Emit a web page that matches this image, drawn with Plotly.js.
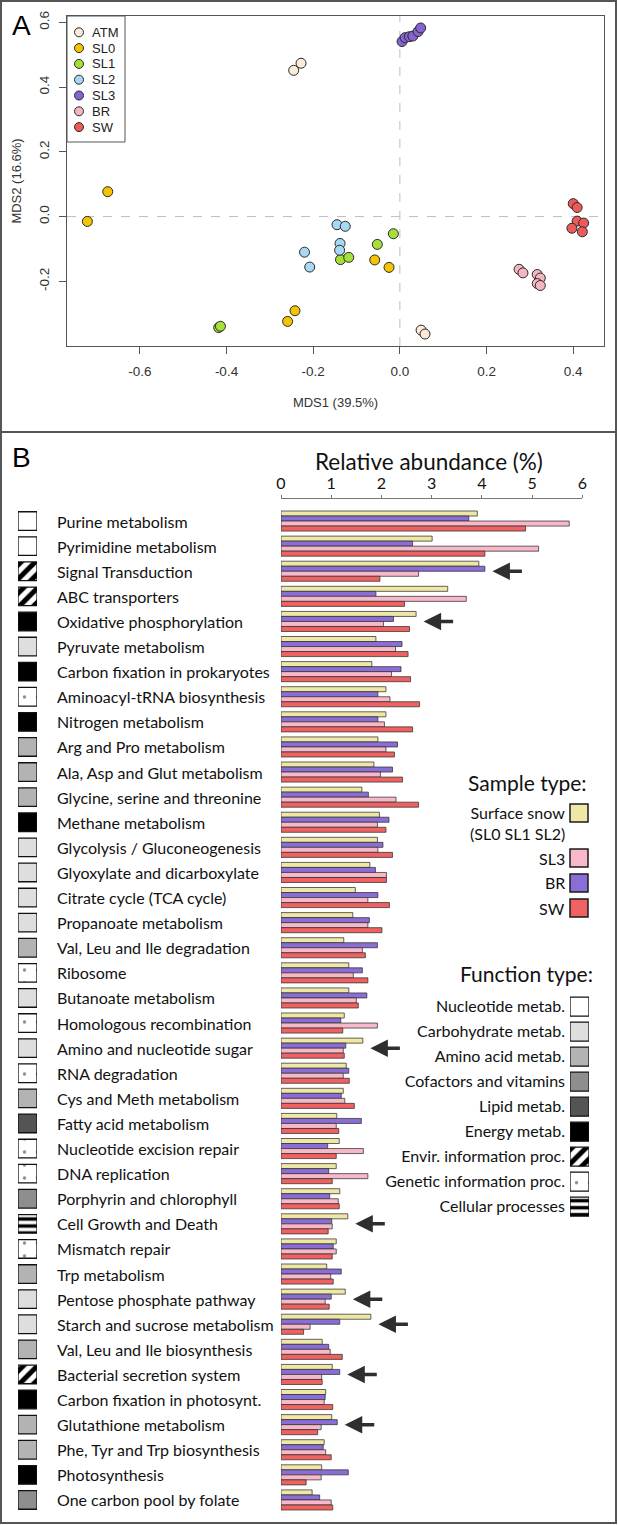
<!DOCTYPE html>
<html>
<head>
<meta charset="utf-8">
<script src="https://cdn.plot.ly/plotly-3.0.1.min.js"></script>
<style>html,body{margin:0;padding:0;background:#fff;}#chart{width:618px;height:1525px;}</style>
</head>
<body>
<div id="chart"></div>
<script>
// ---------- Panel A data (MDS ordination) ----------
const groupNames = ['ATM','SL0','SL1','SL2','SL3','BR','SW'];
const groupColors = ['#FCEBD8','#F5C400','#A6DE3A','#A8D8F4','#8663D0','#F6B5C3','#EC5A5A'];
const atmX = [-0.245, -0.228, 0.049, 0.058];
const atmY = [0.452, 0.474, -0.351, -0.363];
const sl0X = [-0.674, -0.721, -0.242, -0.259, -0.058, -0.025];
const sl0Y = [0.077, -0.015, -0.291, -0.324, -0.134, -0.157];
const sl1X = [-0.418, -0.414, -0.137, -0.118, -0.052, -0.015];
const sl1Y = [-0.343, -0.339, -0.133, -0.126, -0.086, -0.053];
const sl2X = [-0.220, -0.208, -0.145, -0.126, -0.138, -0.139];
const sl2Y = [-0.110, -0.156, -0.025, -0.030, -0.083, -0.104];
const sl3X = [0.005, 0.012, 0.022, 0.030, 0.042, 0.048];
const sl3Y = [0.541, 0.553, 0.556, 0.558, 0.572, 0.583];
const brX = [0.275, 0.284, 0.317, 0.324, 0.317, 0.324];
const brY = [-0.163, -0.174, -0.179, -0.190, -0.207, -0.213];
const swX = [0.400, 0.409, 0.409, 0.424, 0.397, 0.421];
const swY = [0.040, 0.028, -0.014, -0.020, -0.036, -0.047];
const mdsXTicks = [-0.6, -0.4, -0.2, 0.0, 0.2, 0.4];
const mdsXTickText = ['-0.6', '-0.4', '-0.2', '0.0', '0.2', '0.4'];
const mdsYTicks = [-0.2, 0.0, 0.2, 0.4, 0.6];
const mdsYTickText = ['-0.2', '0.0', '0.2', '0.4', '0.6'];

// ---------- Panel B data (relative abundance %) ----------
const categories = [
 'Purine metabolism','Pyrimidine metabolism','Signal Transduction','ABC transporters','Oxidative phosphorylation',
 'Pyruvate metabolism','Carbon fixation in prokaryotes','Aminoacyl-tRNA biosynthesis','Nitrogen metabolism','Arg and Pro metabolism',
 'Ala, Asp and Glut metabolism','Glycine, serine and threonine','Methane metabolism','Glycolysis / Gluconeogenesis','Glyoxylate and dicarboxylate',
 'Citrate cycle (TCA cycle)','Propanoate metabolism','Val, Leu and Ile degradation','Ribosome','Butanoate metabolism',
 'Homologous recombination','Amino and nucleotide sugar','RNA degradation','Cys and Meth metabolism','Fatty acid metabolism',
 'Nucleotide excision repair','DNA replication','Porphyrin and chlorophyll','Cell Growth and Death','Mismatch repair',
 'Trp metabolism','Pentose phosphate pathway','Starch and sucrose metabolism','Val, Leu and Ile biosynthesis','Bacterial secretion system',
 'Carbon fixation in photosynt.','Glutathione metabolism','Phe, Tyr and Trp biosynthesis','Photosynthesis','One carbon pool by folate'];
const surfaceSnow = [3.91,3.01,3.94,3.32,2.69,1.89,1.81,2.09,2.09,1.93,1.85,1.61,1.96,1.92,1.77,1.48,1.43,1.25,1.35,1.35,1.26,1.63,1.30,1.24,1.11,1.16,1.10,1.17,1.33,1.10,0.91,1.28,1.79,0.82,1.02,0.89,1.01,0.86,0.81,0.62];
const brVals = [3.74,2.62,4.06,1.89,2.24,2.41,2.39,1.93,1.93,2.32,2.22,1.74,2.15,2.03,1.88,1.93,1.76,1.92,1.62,1.71,1.19,1.29,1.35,1.20,1.60,0.93,0.95,0.97,1.01,1.04,1.20,1.00,1.17,0.95,1.17,0.88,1.12,0.84,1.34,0.77];
const sl3Vals = [5.74,5.13,2.74,3.69,2.04,2.28,2.20,2.17,2.06,2.09,1.98,2.29,1.92,1.93,2.10,1.73,1.73,1.62,1.44,1.50,1.92,1.24,1.24,1.27,1.10,1.64,1.73,1.14,1.02,1.10,0.99,0.88,0.58,0.98,0.81,0.86,0.80,0.89,0.80,1.00];
const swVals = [4.87,4.06,1.97,2.46,2.56,2.53,2.58,2.76,2.62,2.26,2.42,2.74,2.09,2.22,2.10,2.16,2.01,1.68,1.73,1.54,1.23,1.26,1.36,1.46,1.15,1.10,1.02,1.16,0.94,1.02,1.04,0.96,0.45,1.22,0.82,1.03,0.73,1.00,0.50,1.03];
const abundTicks = [0,1,2,3,4,5,6];
const sampleTypes = ['Surface snow<br>(SL0 SL1 SL2)','SL3','BR','SW'];
const sampleColors = ['#EEE7A6','#F7B9C9','#8B6DD6','#EF6262'];
const funcTypes = ['Nucleotide metab.','Carbohydrate metab.','Amino acid metab.','Cofactors and vitamins','Lipid metab.','Energy metab.','Envir. information proc.','Genetic information proc.','Cellular processes'];
// function type of each category (index into funcTypes)
const catFunction = [0,0,6,6,5,1,5,7,5,2, 2,2,5,1,1,1,1,2,7,1, 7,1,7,2,4,7,7,3,8,7, 2,1,1,2,6,5,2,2,5,3];
const highlighted = ['Signal Transduction','Oxidative phosphorylation','Amino and nucleotide sugar','Cell Growth and Death','Pentose phosphate pathway','Starch and sucrose metabolism','Bacterial secretion system','Glutathione metabolism'];

// ---------- styles ----------
const W = 618, H = 1525;
const fx = p => p / W, fy = p => 1 - p / H;
const fontA = 'Liberation Sans, Arial, sans-serif';
const fontB = 'Lato, Open Sans, sans-serif';
const funcFill = ['#FFFFFF','#DEDEDE','#B3B3B3','#8E8E8E','#545454','#000000','#FFFFFF','#FFFFFF','#FFFFFF'];
const funcShape = ['','','','','','','/','.','-'];
const funcFg = ['#000','#000','#000','#000','#000','#000','#000','#8a8a8a','#000'];
const funcSize = [8,8,8,8,8,8,10,13,7];
const funcSolid = [0.3,0.3,0.3,0.3,0.3,0.3,0.5,0.05,0.5];

const traces = [];
const groupXs = [atmX, sl0X, sl1X, sl2X, sl3X, brX, swX];
const groupYs = [atmY, sl0Y, sl1Y, sl2Y, sl3Y, brY, swY];
groupNames.forEach((g, i) => {
  traces.push({type:'scatter', mode:'markers', name:g, x:groupXs[i], y:groupYs[i], xaxis:'x', yaxis:'y',
    marker:{size:10, color:groupColors[i], line:{color:'#2a2a2a', width:1}}, showlegend:false, hoverinfo:'skip'});
});

const series = [surfaceSnow, brVals, sl3Vals, swVals];
const seriesColor = [sampleColors[0], sampleColors[2], sampleColors[1], sampleColors[3]];
const seriesName = ['Surface snow','BR','SL3','SW'];
series.forEach((s, i) => {
  traces.push({type:'bar', orientation:'h', name:seriesName[i], x:s, y:categories, xaxis:'x2', yaxis:'y2',
    marker:{color:seriesColor[i], line:{color:'rgba(50,50,50,0.75)', width:1}}, showlegend:false, hoverinfo:'skip'});
});

function funcMarker(k) {
  const m = {color: funcFill[k], line: {color:'#111', width:1.3}};
  if (funcShape[k]) {
    m.pattern = {shape: funcShape[k], fgcolor: funcFg[k], bgcolor: funcFill[k], size: funcSize[k], solidity: funcSolid[k], fillmode:'replace'};
  }
  return m;
}
// function-type squares beside each category (own axes), and the function-type key
funcTypes.forEach((f, k) => {
  const cats = categories.filter((c, i) => catFunction[i] === k);
  traces.push({type:'bar', orientation:'h', name:f, x:cats.map(() => 1), y:cats, xaxis:'x3', yaxis:'y3',
    width:0.74, offsetgroup:'sq', marker:funcMarker(k), showlegend:false, hoverinfo:'skip'});
  traces.push({type:'bar', orientation:'h', name:f, x:[1], y:[f], xaxis:'x4', yaxis:'y4',
    width:0.76, offsetgroup:'key', marker:funcMarker(k), showlegend:false, hoverinfo:'skip'});
});

const annotations = [];
const shapes = [];
// panel letters
annotations.push({xref:'paper', yref:'paper', x:fx(21), y:fy(25), text:'A', showarrow:false, font:{family:fontA, size:28, color:'#000'}, xanchor:'center', yanchor:'middle'});
annotations.push({xref:'paper', yref:'paper', x:fx(21), y:fy(458), text:'B', showarrow:false, font:{family:fontA, size:28, color:'#000'}, xanchor:'center', yanchor:'middle'});
// panel A key
shapes.push({type:'rect', xref:'paper', yref:'paper', x0:fx(67), x1:fx(125), y0:fy(142), y1:fy(16), fillcolor:'#fff', line:{color:'#555', width:1}});
groupNames.forEach((g, i) => {
  const cy = 32.3 + 15.8 * i;
  shapes.push({type:'circle', xref:'paper', yref:'paper', x0:fx(74.5), x1:fx(83.5), y0:fy(cy + 4.5), y1:fy(cy - 4.5),
    fillcolor:groupColors[i], line:{color:'#2a2a2a', width:1}});
  annotations.push({xref:'paper', yref:'paper', x:fx(89.5), y:fy(cy), text:g, showarrow:false, xanchor:'left', yanchor:'middle',
    font:{family:fontA, size:13, color:'#222'}});
});
// bar-axis title
annotations.push({xref:'paper', yref:'paper', x:fx(429), y:fy(462), text:'Relative abundance (%)', showarrow:false, xanchor:'center', yanchor:'middle',
  font:{family:fontB, size:22.5, color:'#111'}});
// category labels
categories.forEach(c => {
  annotations.push({xref:'paper', yref:'y2', x:fx(55), y:c, text:c, showarrow:false, xanchor:'left', yanchor:'middle',
    font:{family:fontB, size:16, color:'#111'}});
});
// arrows
highlighted.forEach(c => {
  const i = categories.indexOf(c);
  const m = Math.max(surfaceSnow[i], brVals[i], sl3Vals[i], swVals[i]);
  annotations.push({xref:'x2', yref:'y2', x:m + 0.15, y:c, text:'', showarrow:true, ax:31, ay:0,
    arrowhead:2, arrowsize:1, arrowwidth:3.5, arrowcolor:'#2f2f2f'});
});
// legend titles
annotations.push({xref:'paper', yref:'paper', x:fx(589), y:fy(782), text:'Sample type:', showarrow:false, xanchor:'right', yanchor:'middle', font:{family:fontB, size:21, color:'#111'}});
annotations.push({xref:'paper', yref:'paper', x:fx(595), y:fy(973), text:'Function type:', showarrow:false, xanchor:'right', yanchor:'middle', font:{family:fontB, size:21, color:'#111'}});
// sample legend
const sampleRows = [813, 858, 883, 908];
sampleTypes.forEach((s, i) => {
  shapes.push({type:'rect', xref:'paper', yref:'paper', x0:fx(570), x1:fx(588), y0:fy(sampleRows[i] + 9), y1:fy(sampleRows[i] - 9),
    fillcolor:sampleColors[i], line:{color:'#1a1a1a', width:1.5}});
  annotations.push({xref:'paper', yref:'paper', x:fx(567), y:fy(i === 0 ? 823 : sampleRows[i]), text:s, showarrow:false,
    xanchor:'right', yanchor:'middle', align:'center', font:{family:fontB, size:16, color:'#111'}});
});
// zero reference lines in A
shapes.push({type:'line', xref:'x', yref:'paper', x0:0, x1:0, y0:fy(346), y1:fy(16), line:{color:'#bdbdbd', width:1, dash:'dash'}, layer:'below'});
shapes.push({type:'line', xref:'paper', yref:'y', x0:fx(67), x1:fx(604), y0:0, y1:0, line:{color:'#bdbdbd', width:1, dash:'dash'}, layer:'below'});
// panel frames
shapes.push({type:'rect', xref:'paper', yref:'paper', x0:fx(1), x1:fx(616), y0:fy(432), y1:fy(1), line:{color:'#555', width:2}});
shapes.push({type:'rect', xref:'paper', yref:'paper', x0:fx(1), x1:fx(616), y0:fy(1523), y1:fy(432), line:{color:'#555', width:2}});

const catAxis = {domain:[fy(1512.5), fy(508.5)], type:'category', categoryorder:'array', categoryarray:categories, range:[39.5, -0.5],
  showticklabels:false, ticks:'', showline:false, showgrid:false, zeroline:false};

const layout = {
  width:W, height:H, margin:{l:0, r:0, t:0, b:0}, paper_bgcolor:'#fff', plot_bgcolor:'rgba(0,0,0,0)',
  barmode:'group', bargap:0.2, bargroupgap:0,
  showlegend:false,
  xaxis:{domain:[fx(67), fx(604)], range:[-0.768, 0.471], anchor:'y', tickvals:mdsXTicks, ticktext:mdsXTickText,
    showline:true, mirror:true, linecolor:'#555', linewidth:1, ticks:'outside', ticklen:7, tickcolor:'#555', showgrid:false, zeroline:false,
    tickfont:{family:fontA, size:13.5, color:'#333'}, ticklabelstandoff:6,
    title:{text:'MDS1 (39.5%)', font:{family:fontA, size:13, color:'#333'}, standoff:19}},
  yaxis:{domain:[fy(346), fy(16)], range:[-0.40, 0.62], anchor:'x', tickvals:mdsYTicks, ticktext:mdsYTickText, tickangle:-90,
    showline:true, mirror:true, linecolor:'#555', linewidth:1, ticks:'outside', ticklen:7, tickcolor:'#555', showgrid:false, zeroline:false,
    tickfont:{family:fontA, size:13.5, color:'#333'}, ticklabelstandoff:5,
    title:{text:'MDS2 (16.6%)', font:{family:fontA, size:13, color:'#333'}, standoff:12}},
  xaxis2:{domain:[fx(281), fx(582.3)], range:[0, 6], anchor:'free', position:fy(498), side:'top', tickvals:abundTicks,
    showline:true, linecolor:'#777', linewidth:1, ticks:'outside', ticklen:3, tickcolor:'#777', showgrid:false, zeroline:false,
    tickfont:{family:fontB, size:16, color:'#111'}, ticklabelstandoff:0},
  yaxis2:Object.assign({anchor:'x2'}, catAxis),
  xaxis3:{domain:[fx(18), fx(37)], range:[0, 1], anchor:'y3', visible:false},
  yaxis3:Object.assign({anchor:'x3', visible:false}, catAxis),
  xaxis4:{domain:[fx(570), fx(589)], range:[0, 1], anchor:'y4', visible:false},
  yaxis4:{domain:[fy(1219.2), fy(994.2)], type:'category', categoryorder:'array', categoryarray:funcTypes, range:[8.5, -0.5],
    anchor:'x4', ticks:'', showline:false, showgrid:false, zeroline:false, ticklabelstandoff:4,
    tickfont:{family:fontB, size:16, color:'#111'}},
  annotations:annotations, shapes:shapes
};

Plotly.newPlot('chart', traces, layout, {staticPlot:true, displayModeBar:false});
</script>
</body>
</html>
